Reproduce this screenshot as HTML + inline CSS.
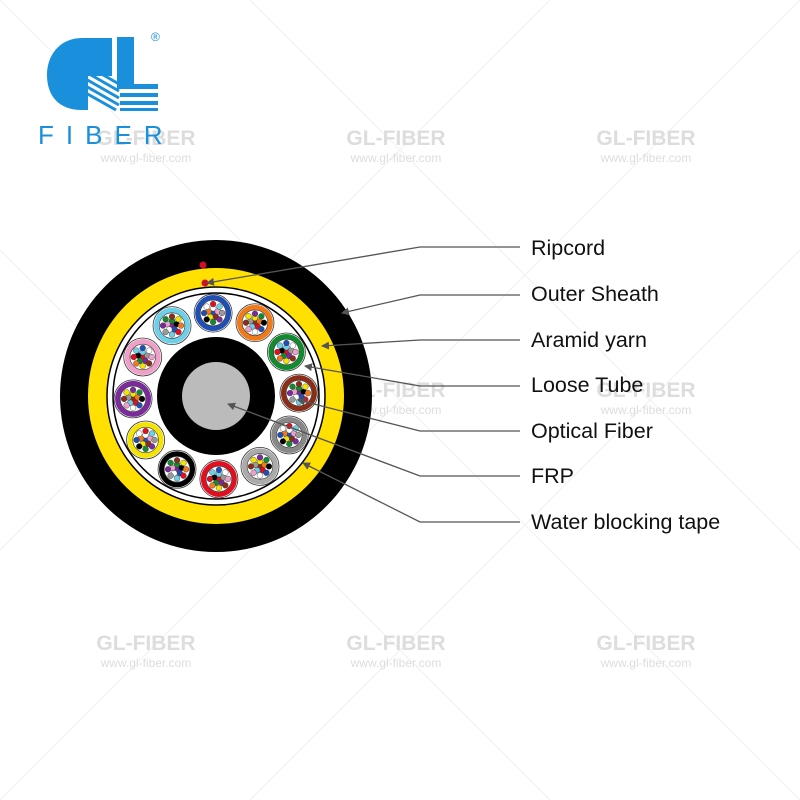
<!DOCTYPE html>
<html><head><meta charset="utf-8"><style>
html,body{margin:0;padding:0;background:#fff;width:800px;height:800px;overflow:hidden}
svg{display:block}
</style></head><body>
<svg id="s" width="800" height="800" viewBox="0 0 800 800" xmlns="http://www.w3.org/2000/svg" font-family="Liberation Sans, sans-serif">
<defs><marker id="ar" markerWidth="8" markerHeight="8" refX="7" refY="4" orient="auto" markerUnits="userSpaceOnUse"><path d="M0,0 L8,4 L0,8 z" fill="#555"/></marker></defs>
<g stroke="#f3f3f3" stroke-width="1.2">
<line x1="0" y1="0" x2="800" y2="800"/><line x1="800" y1="0" x2="0" y2="800"/>
<line x1="250" y1="0" x2="800" y2="550"/><line x1="0" y1="250" x2="550" y2="800"/>
<line x1="550" y1="0" x2="0" y2="550"/><line x1="800" y1="250" x2="250" y2="800"/>
</g>
<g fill="#ddd" font-weight="bold" font-size="21" text-anchor="middle">
<text x="146" y="145">GL-FIBER</text><text x="396" y="145">GL-FIBER</text><text x="646" y="145">GL-FIBER</text>
<text x="146" y="397">GL-FIBER</text><text x="396" y="397">GL-FIBER</text><text x="646" y="397">GL-FIBER</text>
<text x="146" y="650">GL-FIBER</text><text x="396" y="650">GL-FIBER</text><text x="646" y="650">GL-FIBER</text>
</g>
<g fill="#ddd" font-size="12" text-anchor="middle">
<text x="146" y="162">www.gl-fiber.com</text><text x="396" y="162">www.gl-fiber.com</text><text x="646" y="162">www.gl-fiber.com</text>
<text x="146" y="414">www.gl-fiber.com</text><text x="396" y="414">www.gl-fiber.com</text><text x="646" y="414">www.gl-fiber.com</text>
<text x="146" y="667">www.gl-fiber.com</text><text x="396" y="667">www.gl-fiber.com</text><text x="646" y="667">www.gl-fiber.com</text>
</g>
<!-- logo -->
<g fill="#1a90dc">
<path d="M112,38 L82,38 C60,38 47,55 47,75 C47,95 58,110 82,110 L88,110 L88,76 L112,76 Z"/>
<rect x="117" y="37" width="17" height="52"/>
<rect x="117" y="84" width="41" height="5"/>
<rect x="120" y="93" width="38" height="4"/>
<rect x="120" y="101" width="38" height="4"/>
<rect x="120" y="108" width="38" height="3"/>
</g>
<g stroke="#1a90dc" stroke-width="3">
<line x1="84" y1="64" x2="119" y2="84"/><line x1="84" y1="71" x2="119" y2="91"/><line x1="84" y1="78" x2="119" y2="98"/><line x1="84" y1="85" x2="119" y2="105"/><line x1="84" y1="92" x2="116" y2="110"/>
</g>
<text x="151" y="41" font-size="12" fill="#1a90dc">®</text>
<text x="38" y="144" font-size="26" fill="#1a90dc" letter-spacing="12">FIBER</text>
<!-- cable -->
<circle cx="216" cy="396" r="156" fill="#000"/>
<circle cx="216" cy="396" r="128" fill="#ffe000"/>
<circle cx="216" cy="396" r="109" fill="#fff" stroke="#000" stroke-width="1.5"/>
<circle cx="216" cy="396" r="103" fill="#fff" stroke="#000" stroke-width="1.5"/>
<circle cx="216" cy="396" r="59" fill="#000"/>
<circle cx="216" cy="396" r="34" fill="#bbb"/>
<circle cx="203" cy="265" r="3.5" fill="#d0102a"/>
<circle cx="205" cy="283" r="3.5" fill="#d0102a"/>
<g id="tubes"></g>
<!-- leaders -->
<g stroke="#555" stroke-width="1.3" fill="none">
<polyline points="520,247 420,247 207,283" marker-end="url(#ar)"/>
<polyline points="520,295 420,295 342,313" marker-end="url(#ar)"/>
<polyline points="520,340 420,340 322,346" marker-end="url(#ar)"/>
<polyline points="520,386 420,386 305,366" marker-end="url(#ar)"/>
<polyline points="520,431 420,431 298,400" marker-end="url(#ar)"/>
<polyline points="520,476 420,476 228,404" marker-end="url(#ar)"/>
<polyline points="520,522 420,522 303,463" marker-end="url(#ar)"/>
</g>
<g font-size="21.5" fill="#111">
<text x="531" y="255">Ripcord</text>
<text x="531" y="301">Outer Sheath</text>
<text x="531" y="347">Aramid yarn</text>
<text x="531" y="392">Loose Tube</text>
<text x="531" y="438">Optical Fiber</text>
<text x="531" y="483">FRP</text>
<text x="531" y="529">Water blocking tape</text>
</g>
</svg>
<script>
var cols=["#1f4fb4","#f07a1a","#128a30","#8a2e1a","#888","#fff","#e01020","#000","#f5e400","#7a2a9a","#f0a0c8","#6cd0e8"];
var fc=["#1f4fb4","#f07a1a","#128a30","#8a2e1a","#999","#fff","#e01020","#000","#f5e400","#7a2a9a","#f0a0c8","#6cd0e8"];
var g=document.getElementById("tubes"),h="";
for(var i=0;i<12;i++){var a=(-92+30*i)*Math.PI/180,cx=216+83*Math.cos(a),cy=396+83*Math.sin(a);
h+='<circle cx="'+cx+'" cy="'+cy+'" r="19" fill="#fff" stroke="#333" stroke-width="0.8"/>';
h+='<circle cx="'+cx+'" cy="'+cy+'" r="15.5" fill="#fff" stroke="'+(i==5?"#aaa":cols[i])+'" stroke-width="5"/>';
h+='<circle cx="'+cx+'" cy="'+cy+'" r="12.8" fill="#fff" stroke="#333" stroke-width="0.6"/>';
var pts=[[0,0],[0,-4.8],[4.6,-1.5],[2.8,3.9],[-2.8,3.9],[-4.6,-1.5],[0,-9],[6.4,-6.4],[9,0],[6.4,6.4],[0,9],[-6.4,6.4],[-9,0],[-6.4,-6.4]];
for(var k=0;k<pts.length;k++){h+='<circle cx="'+(cx+pts[k][0])+'" cy="'+(cy+pts[k][1])+'" r="2.9" fill="'+fc[(k*5+i*3)%12]+'" stroke="#333" stroke-width="0.4"/>';}}
g.innerHTML=h;
</script>
</body></html>
